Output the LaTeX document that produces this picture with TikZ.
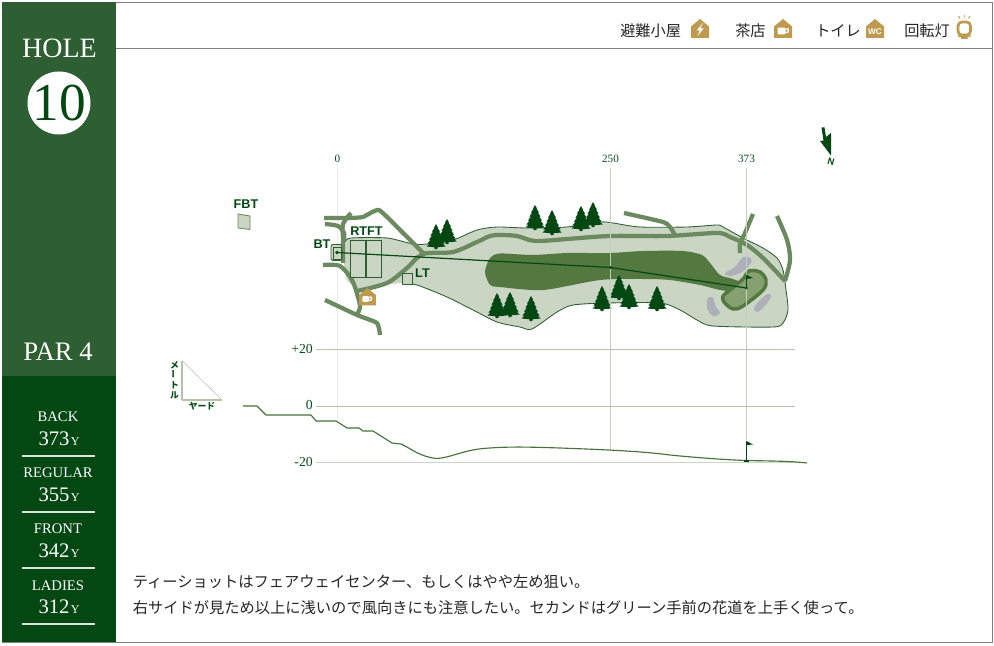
\documentclass[tikz,border=0pt]{standalone}
\usepackage{fontspec}
\setmainfont{Liberation Serif}
\newfontfamily\jp{Noto Sans CJK JP}
\newfontfamily\ssf{Liberation Sans}
\definecolor{panelA}{HTML}{2E5F32}
\definecolor{panelB}{HTML}{034812}
\definecolor{dkgreen}{HTML}{0B4F1A}
\definecolor{rough}{HTML}{CBD5C4}
\definecolor{fairway}{HTML}{537840}
\definecolor{road}{HTML}{6C8A5F}
\definecolor{greenin}{HTML}{87A070}
\definecolor{bunker}{HTML}{ADB0B8}
\definecolor{gold}{HTML}{BF9A4E}
\definecolor{guide}{HTML}{C3CDBD}
\definecolor{scale}{HTML}{B4C4AC}
\tikzset{
  x=0.75pt,y=-0.75pt,
  roadline/.style={draw=road,line width=3.2pt,line cap=butt,line join=round},
  teebox/.style={draw=panelA,line width=0.65pt,fill=rough},
  guideline/.style={draw=guide,line width=0.6pt},
  scaleline/.style={draw=scale,line width=0.75pt},
  whitetxt/.style={text=white,inner sep=0pt},
  grntxt/.style={text=dkgreen,inner sep=0pt},
  teelabel/.style={text=panelB,inner sep=0pt,font=\ssf\bfseries\fontsize{9.5}{10}\selectfont},
  legend/.style={text=black!85,inner sep=0pt,font=\jp\fontsize{11.4}{12}\selectfont},
  story/.style={text=black!85,inner sep=0pt,anchor=west,font=\jp\fontsize{11.45}{12}\selectfont},
  ruleline/.style={draw=white!85!panelB,line width=1.1pt},
  treepic/.pic={
    \fill[panelB] (0,0)--(2,3.5)--(1.4,3.5)--(4,7.5)--(2.8,7.5)--(5.6,11.5)--(4,11.5)--(7,15.5)--(5.4,15.5)--(8.6,19.5)--(6.5,19.5)--(9.5,22.5)--(1.8,23.2)--(1.3,25)--(-1.3,25)--(-1.8,23.2)--(-9.5,22.5)--(-6.5,19.5)--(-8.6,19.5)--(-5.4,15.5)--(-7,15.5)--(-4,11.5)--(-5.6,11.5)--(-2.8,7.5)--(-4,7.5)--(-1.4,3.5)--(-2,3.5)--cycle;
  },
  housepic/.pic={
    \fill[gold] (-9,19)--(-9,7.5)--(0,0)--(9,7.5)--(9,19)--cycle;
  },
  cuppic/.pic={
    \fill[white,rounded corners=.8pt] (-5,-3.4)--(3,-3.4)--(3,3.4)--(-5,3.4)--cycle;
    \draw[white,line width=.9pt] (3,-2)--(5.8,-2)--(5.8,1)--(3,1.6);
  }
}
\begin{document}
\begin{tikzpicture}
\useasboundingbox (0,0) rectangle (994,645);
\fill[white] (0,0) rectangle (994,645);
% frame
\draw[draw=black!50,line width=.6pt] (2,2) rectangle (992,642);
\draw[draw=black!50,line width=.6pt] (115,48.5)--(992,48.5);
\fill[panelA] (2,2) rectangle (115.5,376);
\fill[panelB] (2,376) rectangle (115.5,642);
% left panel text
\node[whitetxt,font=\fontsize{21}{22}\selectfont] (holelabel) at (59.5,48) {HOLE};
\fill[white] (59,103) circle (31.5);
\node[text=panelB,inner sep=0pt,font=\fontsize{40}{40}\selectfont] (holenum) at (59,103) {10};
\node[whitetxt,font=\fontsize{20}{20}\selectfont] (parlabel) at (58,351.5) {PAR 4};
\node[whitetxt,font=\fontsize{11}{12}\selectfont] (t1) at (58,417) {BACK};
\node[whitetxt,font=\fontsize{15.5}{16}\selectfont] (d1) at (59,439) {373\hspace{1pt}{\fontsize{9}{10}\selectfont Y}};
\draw[ruleline] (22,456)--(95,456);
\node[whitetxt,font=\fontsize{11}{12}\selectfont] (t2) at (58,473) {REGULAR};
\node[whitetxt,font=\fontsize{15.5}{16}\selectfont] (d2) at (59,495) {355\hspace{1pt}{\fontsize{9}{10}\selectfont Y}};
\draw[ruleline] (22,512)--(95,512);
\node[whitetxt,font=\fontsize{11}{12}\selectfont] (t3) at (58,529) {FRONT};
\node[whitetxt,font=\fontsize{15.5}{16}\selectfont] (d3) at (59,551) {342\hspace{1pt}{\fontsize{9}{10}\selectfont Y}};
\draw[ruleline] (22,568)--(95,568);
\node[whitetxt,font=\fontsize{11}{12}\selectfont] (t4) at (58,586) {LADIES};
\node[whitetxt,font=\fontsize{15.5}{16}\selectfont] (d4) at (59,607) {312\hspace{1pt}{\fontsize{9}{10}\selectfont Y}};
\draw[ruleline] (22,624)--(95,624);
% legend
\node[legend,anchor=west] (lg1) at (620,31) {避難小屋};
\pic at (700,19) {housepic};
\fill[white] (703,23)--(696.5,30.5)--(699.8,30.5)--(697.5,36)--(703.5,28.5)--(700.2,28.5)--cycle;
\node[legend,anchor=west] (lg2) at (735,31) {茶店};
\pic at (783,19) {housepic};
\pic at (782.5,31) {cuppic};
\node[legend,anchor=west] (lg3) at (815,31) {トイレ};
\pic at (875,19) {housepic};
\node[whitetxt,font=\ssf\bfseries\fontsize{6.2}{7}\selectfont] (wc) at (875,32) {WC};
\node[legend,anchor=west] (lg4) at (904,31) {回転灯};
\draw[gold,line width=2pt,rounded corners=3pt] (958,22)rectangle(970.5,35);
\fill[gold] (958,35.5) rectangle (970.5,37) (961,37) rectangle (967.5,39);
\draw[gold,line width=.7pt] (964.2,15)--(964.2,18) (958.5,16)--(960,18.5) (970,16)--(968.5,18.5);
% guides
\draw[draw=black!8,line width=.6pt] (337.5,168)--(337.5,422);
% course rough
\fill[rough,draw=none] plot[smooth,tension=.45] coordinates {(345,242)(351,238)(387,238)(413,244)(427,244)(453,240)(477,230)(497,227)(527,228)(567,227)(600,222)(613,223)(640,227)(687,227)(717,225)(723,227)(743,238)(763,248)(777,258)(783,270)(786,290)(788,310)(783,323)(773,327)(713,326)(697,320)(680,310)(660,303)(607,303)(573,305)(557,312)(532,329)(520,327)(497,322)(473,310)(447,297)(417,285)(402,283)(385,285)(360,289)(347,280)(344,262)(344,250)} -- cycle;
\draw[draw=panelA,line width=.65pt] plot[smooth,tension=.45] coordinates {(345,242)(351,238)(387,238)(413,244)(427,244)(453,240)(477,230)(497,227)(527,228)(567,227)(600,222)(613,223)(640,227)(687,227)(717,225)(723,227)(743,238)(763,248)(777,258)(783,270)(786,290)(788,310)(783,323)(773,327)(713,326)(697,320)(680,310)(660,303)(607,303)(573,305)(557,312)(532,329)(520,327)(497,322)(473,310)(447,297)(417,285)(402,283)};
% fairway
\fill[fairway] plot[smooth cycle,tension=.45] coordinates {(485,272)(490,258)(500,253.5)(533,255)(567,253)(610,253)(643,251)(683,251)(702,255)(710,263)(720,275)(733,279)(745,285)(735,291)(720,290)(700,285)(670,280)(643,279)(600,280)(543,290)(500,287)(490,285)};
% bunkers
\fill[bunker] plot[smooth cycle,tension=.6] coordinates {(725,273)(735,267)(743,257)(750,258)(751,263)(742,272)(730,276)};
\fill[bunker] plot[smooth cycle,tension=.6] coordinates {(708,298)(713,298)(716,307)(720,313)(713,316)(707,308)};
\fill[bunker] plot[smooth cycle,tension=.6] coordinates {(768,294)(771,297)(763,308)(757,312)(754,308)(760,300)};
% green
\filldraw[fill=greenin,draw=fairway,line width=2.6pt] plot[smooth cycle,tension=.55] coordinates {(749,271)(760,272)(766,280)(763,290)(743,306)(733,309)(724,302)(723,296)(730,290)(743,279)};
% trees
\foreach \tx/\ty in {436/224,447/219,535/205,552/210,581/206,593/202,497/293,510/292,531/296,602/286,619/275,629/284,657/286}{\pic at (\tx,\ty) {treepic};}
% roads
\draw[roadline] plot[smooth,tension=.5] coordinates {(357,291)(387,283)(407,268)(423,254)(453,252)(477,242)(490,236)(500,235)(517,236)(535,241)(567,239)(610,236)(667,236)(717,233)(730,237)(747,245)(763,258)(785,281)};
\draw[roadline] plot[smooth,tension=.5] coordinates {(777,216)(787,240)(790,260)(785,281)};
\draw[roadline] plot[smooth,tension=.3] coordinates {(753,214)(745,233)(740,243)(740,253)};
\draw[roadline] plot[smooth,tension=.35] coordinates {(624,213)(663,222)(670,227)(675,235)};
\draw[roadline] plot[smooth,tension=.25] coordinates {(324,218)(350,218)(363,217)(379,210)(403,233)(424,254)};
\draw[roadline] plot[smooth,tension=.5] coordinates {(351,213)(343,224)(343,240)(343,263)};
\draw[roadline] plot[smooth,tension=.5] coordinates {(325,224)(338,226)(344,233)(344,240)};
\draw[roadline] plot[smooth,tension=.5] coordinates {(323,265)(340,266)(352,280)(358,297)(360,307)(357,315)};
\draw[roadline] plot[smooth,tension=.3] coordinates {(325,300)(357,315)(377,323)(380,335)};
% tees
\draw[teebox] (350.5,240.5) rectangle (381.5,277);
\draw[draw=panelA,line width=1.4pt] (366,240.5)--(366,277);
\draw[teebox] (402.5,273) rectangle (412,284);
\draw[teebox,rounded corners=1.5pt] (331,244.5) rectangle (342,260.5);
\draw[teebox] (333.5,247) rectangle (341,259);
\draw[teebox,draw=road] (238,214)--(250,216)--(250,229.5)--(238,228)--cycle;
% tea house on map
\pic[scale=.92] at (367.5,288) {housepic};
\pic[scale=.85] at (366.5,299) {cuppic};
% labels
\node[teelabel] (fbt) at (246,204) {FBT};
\node[teelabel] (rtft) at (366.5,231) {RTFT};
\node[teelabel] (bt) at (322,244) {BT};
\node[teelabel] (lt) at (422.5,273) {LT};
% distance labels and guides
\node[grntxt,font=\fontsize{8.4}{9}\selectfont] (dist0) at (337.5,159) {0};
\node[grntxt,font=\fontsize{8.4}{9}\selectfont] (dist250) at (610.5,159) {250};
\node[grntxt,font=\fontsize{8.4}{9}\selectfont] (dist373) at (746.5,159) {373};
\draw[guideline] (610.5,168)--(610.5,450);
\draw[guideline] (746.5,168)--(746.5,440);
% shot line
\coordinate (shotA) at (337,252.5);
\coordinate (shotB) at (610.5,267.5);
\coordinate (shotC) at (746.5,288);
\draw[panelB,line width=.9pt] (shotA)--(shotB)--(shotC);
\fill[panelB] (shotA) circle (1.8) (shotB) circle (1.6) (shotC) circle (1.4);
\draw[panelB,line width=.7pt] (746.5,288)--(746.5,275);
\fill[panelB] (746.5,275)--(753,278)--(746.5,279)--cycle;
% north arrow
\fill[panelB] (821.5,127.5)--(824.5,127.5)--(826,137)--(831,133)--(831,155.5)--(820,141)--(823.5,140.5)--cycle;
\node[text=panelB,inner sep=0pt,rotate=165,font=\ssf\bfseries\fontsize{7}{7}\selectfont] (north) at (831,161.5) {N};
% elevation scale lines
\draw[scaleline] (316,349)--(795,349);
\draw[scaleline] (316,406.5)--(795,406.5);
\draw[draw=rough,line width=1.1pt] (316,462.5)--(796,462.5);
\node[grntxt,anchor=east,font=\fontsize{10.3}{10}\selectfont] (e1) at (313,348.5) {+20};
\node[grntxt,anchor=east,font=\fontsize{10.3}{10}\selectfont] (e2) at (313,404.5) {0};
\node[grntxt,anchor=east,font=\fontsize{10.3}{10}\selectfont] (e3) at (313,461.5) {-20};
% profile
\draw[draw=fairway!85!panelB,line width=.85pt,line join=round]
 (243,406)--(257,406)--(266,415)--(311,415)--(316,421)--(336,421)--(347,428)--(359,428)--(363,431)--(373,431)--(392,443)--(401,444)
 .. controls (412,449) and (420,457) .. (437,458.5)
 .. controls (450,458) and (465,449) .. (490,448)
 .. controls (510,446.5) and (530,447) .. (560,448)
 .. controls (600,449.5) and (640,451) .. (670,455)
 .. controls (700,458) and (730,460) .. (746,460.5)
 .. controls (770,461) and (790,461) .. (807,463);
\draw[panelB,line width=.9pt] (746.5,461)--(746.5,441);
\fill[panelB] (746.5,441)--(753,444.5)--(746.5,445)--cycle;
\fill[panelB] (744,460) rectangle (749,462);
% scale triangle
\draw[draw=black!22,line width=.5pt] (182,360.5)--(222,400);
\draw[scaleline,line width=1pt] (182,360.5)--(182,400);
\draw[scaleline,line width=1.2pt] (182,400)--(222,400);
\node[text=dkgreen,inner sep=0pt,font=\jp\bfseries\fontsize{6.6}{7.4}\selectfont,align=center] (metre) at (174.5,380) {メ\\\rotatebox{90}{ー}\\ト\\ル};
\node[text=dkgreen,inner sep=0pt,font=\jp\bfseries\fontsize{6.6}{7}\selectfont] (yard) at (202,406.5) {ヤード};
% story
\node[story] (s1) at (132.5,582) {ティーショットはフェアウェイセンター、もしくはやや左め狙い。};
\node[story] (s2) at (132.5,608) {右サイドが見ため以上に浅いので風向きにも注意したい。セカンドはグリーン手前の花道を上手く使って。};
\end{tikzpicture}
\end{document}
